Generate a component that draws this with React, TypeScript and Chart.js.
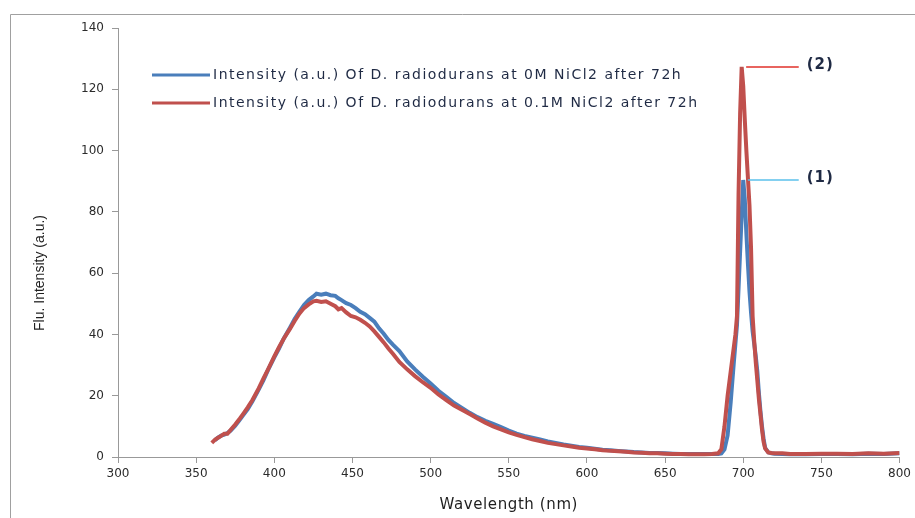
import React, { useEffect, useRef } from 'react';
import { Chart, registerables } from 'chart.js';

Chart.register(...registerables);

// Wavelength (nm) sampling points shared by both series
const wavelengths = [
  360, 362, 364, 366, 368, 370, 372, 375, 378, 380, 383, 386, 390, 393, 396, 400, 403, 406, 410, 413,
  416, 419, 422, 425, 427, 430, 433, 436, 439, 441, 443, 446, 449, 452, 455, 458, 461, 464, 467, 470,
  473, 476, 480, 485, 490, 495, 500, 505, 510, 515, 520, 525, 530, 535, 540, 545, 550, 555, 560, 565,
  570, 575, 580, 585, 590, 595, 600, 605, 610, 615, 620, 625, 630, 635, 640, 645, 650, 655, 660, 665,
  670, 675, 680, 684, 686, 688, 690, 692, 694, 695, 696, 697, 698, 699, 700, 701, 702, 703, 704, 705,
  706, 707, 708, 709, 710, 711, 712, 713, 714, 716, 718, 720, 725, 730, 740, 750, 760, 770, 780, 790, 800,
];

// Intensity (a.u.) at 0M NiCl2 after 72h
const intensity0M = [
  null, 5.5, 6.3, 7.0, 7.3, 7.8, 8.6, 10.2, 12.2, 13.6, 15.6, 18.2, 22.0, 25.0, 28.4, 32.5, 35.4, 38.6, 42.2, 45.0,
  47.4, 49.6, 51.2, 52.4, 53.3, 53.0, 53.3, 52.8, 52.6, 51.8, 51.2, 50.2, 49.6, 48.6, 47.4, 46.6, 45.4, 44.2, 42.0, 40.2,
  38.2, 36.6, 34.6, 31.2, 28.6, 26.2, 24.0, 21.6, 19.6, 17.6, 16.0, 14.4, 13.0, 11.8, 10.8, 9.8, 8.6, 7.6, 6.9, 6.3,
  5.7, 5.1, 4.6, 4.1, 3.7, 3.3, 3.0, 2.7, 2.4, 2.2, 2.0, 1.8, 1.6, 1.5, 1.3, 1.3, 1.2, 1.1, 1.0, 1.0,
  1.0, 1.0, 1.0, 1.0, 1.2, 2.5, 7.0, 18.0, 31.0, 37.0, 43.0, 55.0, 67.0, 79.0, 90.4, 84.0, 73.0, 63.0, 54.0, 47.0,
  41.0, 37.0, 33.0, 28.0, 21.0, 15.0, 10.0, 6.0, 3.0, 1.5, 1.2, 1.1, 1.0, 0.9, 0.9, 1.0, 1.0, 0.9, 1.1, 1.0, 1.2,
];

// Intensity (a.u.) at 0.1M NiCl2 after 72h
const intensity01M = [
  4.6, 5.6, 6.3, 6.9, 7.6, 7.6, 8.8, 10.6, 12.6, 14.0, 16.2, 18.6, 22.4, 25.6, 28.6, 32.8, 35.8, 38.6, 41.8, 44.4,
  46.8, 48.6, 49.8, 50.8, 51.0, 50.6, 50.8, 50.0, 49.2, 48.2, 48.6, 47.2, 46.0, 45.6, 44.8, 43.8, 42.6, 41.0, 39.2, 37.4,
  35.4, 33.6, 31.0, 28.6, 26.4, 24.4, 22.6, 20.4, 18.6, 16.8, 15.4, 14.0, 12.6, 11.2, 10.0, 9.0, 8.0, 7.2, 6.5, 5.8,
  5.2, 4.6, 4.2, 3.8, 3.4, 3.0, 2.8, 2.5, 2.2, 2.0, 1.9, 1.7, 1.5, 1.4, 1.2, 1.2, 1.1, 1.0, 1.0, 0.9,
  0.9, 0.9, 1.0, 1.2, 2.5, 10.0, 20.0, 28.0, 36.0, 40.0, 46.0, 86.0, 112.0, 127.3, 121.0, 110.0, 100.0, 91.0, 82.0, 68.0,
  46.0, 38.0, 31.0, 25.0, 19.0, 14.0, 9.0, 5.0, 2.8, 1.5, 1.3, 1.2, 1.2, 1.0, 1.0, 1.1, 1.1, 1.0, 1.2, 1.1, 1.3,
];

const seriesLabels = [
  'Intensity (a.u.) Of D. radiodurans at 0M NiCl2 after 72h',
  'Intensity (a.u.) Of D. radiodurans at 0.1M NiCl2 after 72h',
];
const seriesColors = ['#4A7EBB', '#C0504D'];

// Peak annotations: label, peak wavelength, peak intensity, end of leader line (nm)
const annotLabels = ['(1)', '(2)'];
const annotPeakX = [700.4, 699.3];
const annotPeakY = [90.4, 127.3];
const annotLeaderEnd = [735.5, 735.5];
const annotColors = ['#5BC0EB', '#E0302A'];

const xTicks = [300, 350, 400, 450, 500, 550, 600, 650, 700, 750, 800];
const yTicks = [0, 20, 40, 60, 80, 100, 120, 140];
const xTitle = 'Wavelength (nm)';
const yTitle = 'Flu. Intensity (a.u.)';

const overlayPlugin = {
  id: 'overlay',
  beforeDraw(chart: any) {
    const ctx = chart.ctx;
    ctx.save();
    ctx.strokeStyle = '#A0A0A0';
    ctx.lineWidth = 1;
    ctx.beginPath();
    ctx.moveTo(10.5, chart.height);
    ctx.lineTo(10.5, 14.5);
    ctx.lineTo(chart.width, 14.5);
    ctx.stroke();
    ctx.restore();
  },
  afterDraw(chart: any) {
    const ctx = chart.ctx;
    const xs = chart.scales.x;
    const ys = chart.scales.y;
    const area = chart.chartArea;
    ctx.save();

    // Legend inside plot
    seriesLabels.forEach((label, i) => {
      const y = area.top + 47 + i * 28;
      const x0 = area.left + 34;
      ctx.strokeStyle = seriesColors[i];
      ctx.lineWidth = 3;
      ctx.beginPath();
      ctx.moveTo(x0, y);
      ctx.lineTo(x0 + 58, y);
      ctx.stroke();
      ctx.fillStyle = '#1F2A44';
      ctx.font = '14px "DejaVu Sans"';
      (ctx as any).letterSpacing = '1.5px';
      ctx.textBaseline = 'middle';
      ctx.textAlign = 'left';
      ctx.fillText(label, x0 + 61, y);
      (ctx as any).letterSpacing = '0px';
    });

    // Peak annotations
    annotLabels.forEach((label, i) => {
      const px = xs.getPixelForValue(annotPeakX[i]) + 4;
      const py = ys.getPixelForValue(annotPeakY[i]);
      const ex = xs.getPixelForValue(annotLeaderEnd[i]);
      ctx.strokeStyle = annotColors[i];
      ctx.lineWidth = 1.5;
      ctx.beginPath();
      ctx.moveTo(px, py);
      ctx.lineTo(ex, py);
      ctx.stroke();
      ctx.fillStyle = '#1F2A44';
      ctx.font = 'bold 15px "DejaVu Sans"';
      (ctx as any).letterSpacing = '1px';
      ctx.textBaseline = 'middle';
      ctx.textAlign = 'left';
      ctx.fillText(label, ex + 8, py - 2);
      (ctx as any).letterSpacing = '0px';
    });

    // Axis titles
    ctx.fillStyle = '#1F1F1F';
    ctx.font = '15px "DejaVu Sans"';
    (ctx as any).letterSpacing = '0.6px';
    ctx.textAlign = 'center';
    ctx.textBaseline = 'middle';
    ctx.fillText(xTitle, (area.left + area.right) / 2, 505);
    (ctx as any).letterSpacing = '0px';

    ctx.save();
    ctx.translate(40, 273);
    ctx.rotate(-Math.PI / 2);
    ctx.font = '14px "Liberation Sans Narrow", "Liberation Sans"';
    ctx.fillText(yTitle, 0, 0);
    ctx.restore();

    ctx.restore();
  },
};

export default function App() {
  const canvasRef = useRef<HTMLCanvasElement | null>(null);

  useEffect(() => {
    const canvas = canvasRef.current;
    if (!canvas) return;
    const mk = (vals: (number | null)[]) => wavelengths.map((w, i) => ({ x: w, y: vals[i] }));
    const chart = new Chart(canvas, {
      type: 'line',
      data: {
        datasets: [
          {
            label: seriesLabels[0],
            data: mk(intensity0M) as any,
            borderColor: seriesColors[0],
            backgroundColor: seriesColors[0],
            borderWidth: 4,
            pointRadius: 0,
            tension: 0,
            order: 2,
          },
          {
            label: seriesLabels[1],
            data: mk(intensity01M) as any,
            borderColor: seriesColors[1],
            backgroundColor: seriesColors[1],
            borderWidth: 4,
            pointRadius: 0,
            tension: 0,
            order: 1,
          },
        ],
      },
      options: {
        responsive: false,
        animation: false,
        layout: { padding: { top: 28, right: 14, left: 0, bottom: 0 } },
        plugins: { legend: { display: false }, tooltip: { enabled: false }, title: { display: false } },
        scales: {
          x: {
            type: 'linear',
            min: 300,
            max: 800,
            afterBuildTicks: (scale: any) => {
              scale.ticks = xTicks.map((v) => ({ value: v }));
            },
            afterFit: (scale: any) => {
              scale.height = 61;
            },
            grid: { display: true, drawOnChartArea: false, drawTicks: true, tickLength: 6, color: '#999999' },
            border: { display: true, color: '#999999', width: 1 },
            ticks: { color: '#2B2B2B', font: { family: 'DejaVu Sans', size: 12 }, padding: 4, maxRotation: 0 },
          },
          y: {
            type: 'linear',
            min: 0,
            max: 140,
            afterBuildTicks: (scale: any) => {
              scale.ticks = yTicks.map((v) => ({ value: v }));
            },
            afterFit: (scale: any) => {
              scale.width = 118;
            },
            grid: { display: true, drawOnChartArea: false, drawTicks: true, tickLength: 6, color: '#999999' },
            border: { display: true, color: '#999999', width: 1 },
            ticks: { color: '#2B2B2B', font: { family: 'DejaVu Sans', size: 12 }, padding: 8 },
          },
        },
      },
      plugins: [overlayPlugin],
    });
    return () => chart.destroy();
  }, []);

  return (
    <div style={{ position: 'fixed', left: 0, top: 0, width: 915, height: 518, background: '#fff' }}>
      <canvas ref={canvasRef} width={915} height={518} style={{ display: 'block' }} />
    </div>
  );
}
